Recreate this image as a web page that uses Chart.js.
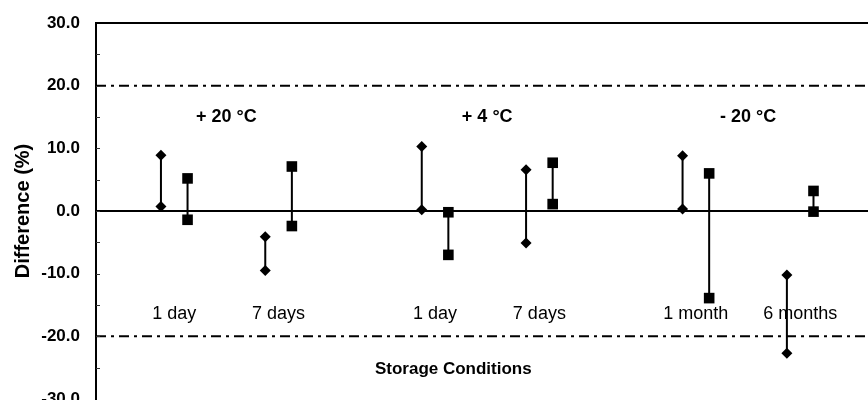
<!DOCTYPE html>
<html>
<head>
<meta charset="utf-8">
<script src="https://cdn.jsdelivr.net/npm/chart.js@4/dist/chart.umd.min.js"></script>
<style>
  html, body { margin: 0; padding: 0; background: #fff; overflow: hidden; }
  canvas { display: block; }
</style>
</head>
<body>
<canvas id="diffChart" width="868" height="400"></canvas>
<script>
// Temperaturas e tempos de armazenamento
const groups = ['+ 20 °C', '+ 4 °C', '- 20 °C'];
const times = ['1 day', '7 days', '1 day', '7 days', '1 month', '6 months'];
// posição (slot) de cada tempo no eixo x
const slots = [1, 3, 6, 8, 11, 13];

// losangos (faixa mín/máx)
const diamondHigh = [8.9, -4.1, 10.3, 6.6, 8.8, -10.2];
const diamondLow = [0.7, -9.5, 0.2, -5.1, 0.3, -22.7];
// quadrados (faixa mín/máx)
const squareHigh = [5.2, 7.1, -0.2, 7.7, 6.0, 3.2];
const squareLow = [-1.4, -2.4, -7.0, 1.1, -13.9, -0.1];

// linhas de referência
const limitLevels = [20, -20];
const yTicks = [30, 20, 10, 0, -10, -20, -30];

const X_MAX = 14.8;
const OFFSET = 0.255;

function rangePoints(high, low, shift) {
    const pts = [];
    slots.forEach((s, i) => {
        const x = s + 0.5 + shift;
        pts.push({ x: x, y: high[i] });
        pts.push({ x: x, y: low[i] });
        pts.push({ x: x, y: null });
    });
    return pts;
}

const datasets = [];
limitLevels.forEach(v => {
    datasets.push({
        data: [{ x: 0, y: v }, { x: X_MAX, y: v }],
        borderColor: '#000',
        borderWidth: 2,
        borderDash: [10, 5, 3, 5],
        pointRadius: 0
    });
});
datasets.push({
    data: [{ x: 0, y: 0 }, { x: X_MAX, y: 0 }],
    borderColor: '#000',
    borderWidth: 2,
    pointRadius: 0
});
datasets.push({
    data: rangePoints(diamondHigh, diamondLow, -OFFSET),
    borderColor: '#000',
    borderWidth: 2,
    pointStyle: 'rectRot',
    pointRadius: 5.5,
    pointBackgroundColor: '#000',
    pointBorderWidth: 0
});
datasets.push({
    data: rangePoints(squareHigh, squareLow, OFFSET),
    borderColor: '#000',
    borderWidth: 2,
    pointStyle: 'rect',
    pointRadius: 7.5,
    pointBackgroundColor: '#000',
    pointBorderWidth: 0
});

// textos dentro da área do gráfico + marcas internas do eixo y
const annotations = {
    id: 'annotations',
    afterDatasetsDraw(chart) {
        const ctx = chart.ctx;
        const xs = chart.scales.x;
        const ys = chart.scales.y;
        const area = chart.chartArea;
        ctx.save();

        ctx.strokeStyle = '#333';
        ctx.lineWidth = 1;
        for (let v = -25; v <= 25; v += 5) {
            const py = Math.round(ys.getPixelForValue(v)) + 0.5;
            ctx.beginPath();
            ctx.moveTo(area.left, py);
            ctx.lineTo(area.left + 4, py);
            ctx.stroke();
        }

        ctx.fillStyle = '#000';
        ctx.textAlign = 'center';
        ctx.textBaseline = 'middle';

        ctx.font = 'bold 18px "Liberation Sans", Arial, sans-serif';
        groups.forEach((g, i) => {
            const mid = (slots[2 * i] + slots[2 * i + 1]) / 2 + 0.5;
            ctx.fillText(g, xs.getPixelForValue(mid), ys.getPixelForValue(15));
        });

        ctx.font = '18px "Liberation Sans", Arial, sans-serif';
        times.forEach((t, i) => {
            ctx.fillText(t, xs.getPixelForValue(slots[i] + 0.5), ys.getPixelForValue(-16.4));
        });

        ctx.font = 'bold 17px "Liberation Sans", Arial, sans-serif';
        ctx.fillText('Storage Conditions', xs.getPixelForValue(6.85), ys.getPixelForValue(-25.2));
        ctx.restore();
    }
};

new Chart(document.getElementById('diffChart'), {
    type: 'line',
    data: { datasets: datasets },
    options: {
        responsive: false,
        animation: false,
        events: [],
        layout: { autoPadding: false, padding: { top: 23, right: 0, bottom: 1, left: 0 } },
        plugins: {
            legend: { display: false },
            tooltip: { enabled: false }
        },
        scales: {
            x: {
                type: 'linear',
                position: 'top',
                min: 0,
                max: X_MAX,
                grid: { drawOnChartArea: false, drawTicks: false },
                ticks: { display: false },
                border: { color: '#000', width: 2 },
                afterFit(s) { s.height = 0; }
            },
            y: {
                min: -30,
                max: 30,
                afterBuildTicks(s) { s.ticks = yTicks.map(v => ({ value: v })); },
                grid: { drawOnChartArea: false, drawTicks: false },
                border: { color: '#000', width: 2 },
                ticks: {
                    color: '#000',
                    padding: 16,
                    font: { family: '"Liberation Sans", Arial, sans-serif', size: 17, weight: 'bold' },
                    callback: v => v.toFixed(1)
                },
                title: {
                    display: true,
                    text: 'Difference (%)',
                    color: '#000',
                    padding: { top: 11, bottom: 0 },
                    font: { family: '"Liberation Sans", Arial, sans-serif', size: 20, weight: 'bold' }
                },
                afterFit(s) {
                    s.width = 96;
                    s.paddingTop = 0;
                    s.paddingBottom = 0;
                }
            }
        }
    },
    plugins: [annotations]
});
</script>
</body>
</html>
